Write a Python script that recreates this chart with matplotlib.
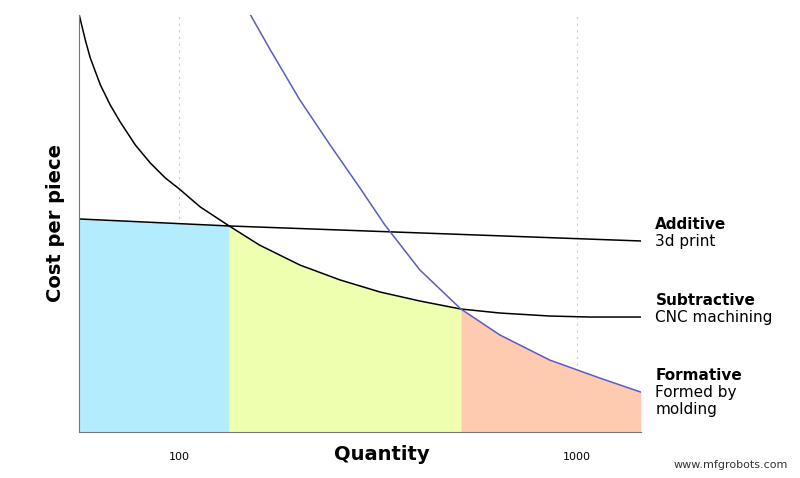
import matplotlib
matplotlib.use("Agg")
import matplotlib.pyplot as plt
import numpy as np

# quantity vs cost (arbitrary units)
add_q = [56, 133.5, 1449]
add_c = [213, 206, 191]
sub_q = [56, 58, 59.7, 63.3, 67, 71, 77.5, 84.5, 92.2, 100, 112.9, 133.5, 159, 201, 254, 320, 403, 511, 641, 855, 1078, 1449]
sub_c = [417, 392, 374, 347, 327, 310, 287, 269, 254, 243, 225, 206, 187, 167, 152, 140, 131, 123, 119, 116, 115, 115]
form_q = [151, 169.4, 201, 239.5, 284.7, 329, 403, 511, 641, 855, 1143, 1449]
form_c = [417, 382, 332, 287, 244, 207, 162, 123, 97, 72, 54, 40]
split1, split2 = 133.5, 511
labels = [("Additive", "3d print", 191), ("Subtractive", "CNC machining", 115), ("Formative", "Formed by\nmolding", 40)]

fig = plt.figure(figsize=(8, 4.78), dpi=100)
ax = fig.add_axes([0.099, 0.096, 0.702, 0.873])
ax.set_xscale("log")
ax.set_xlim(56, 1449)
ax.set_ylim(0, 417)

aq, ac = np.array(add_q), np.array(add_c)
m = aq <= split1
ax.fill_between(aq[m], ac[m], 0, color="#b3ecfd", lw=0)
sq, sc = np.array(sub_q), np.array(sub_c)
m = (sq >= split1) & (sq <= split2)
ax.fill_between(sq[m], sc[m], 0, color="#eeffb0", lw=0)
fq, fc = np.array(form_q), np.array(form_c)
m = fq >= split2
ax.fill_between(fq[m], fc[m], 0, color="#ffcbb0", lw=0)

ax.plot(add_q, add_c, color="black", lw=1.1)
ax.plot(sub_q, sub_c, color="black", lw=1.1)
ax.plot(form_q, form_c, color="#5a5ac8", lw=1.1)

for v in [100, 1000]:
    ax.axvline(v, color="#cccccc", ls=(0, (2, 4)), lw=0.8, zorder=0)
ax.set_xticks([100, 1000])
ax.set_xticklabels(["100", "1000"], fontsize=8)
ax.minorticks_off()
ax.tick_params(length=0, pad=14)
ax.set_yticks([])
for s in ["top", "right"]:
    ax.spines[s].set_visible(False)
for s in ["left", "bottom"]:
    ax.spines[s].set_color("#777777")
ax.set_xlabel("Quantity", fontsize=14, fontweight="bold")
ax.xaxis.set_label_coords(0.539, -0.03, transform=ax.transAxes)
ax.xaxis.label.set_va("top")
ax.set_ylabel("Cost per piece", fontsize=14, fontweight="bold", labelpad=10)

for title, sub, yv in labels:
    ax.text(1.026, yv / 417 + 0.022, title, transform=ax.transAxes, fontsize=11, fontweight="bold", va="bottom")
    ax.text(1.026, yv / 417 + 0.017, sub, transform=ax.transAxes, fontsize=11, va="top")

fig.text(0.985, 0.02, "www.mfgrobots.com", ha="right", fontsize=8, color="#333333")
fig.savefig("out.png", dpi=100)
